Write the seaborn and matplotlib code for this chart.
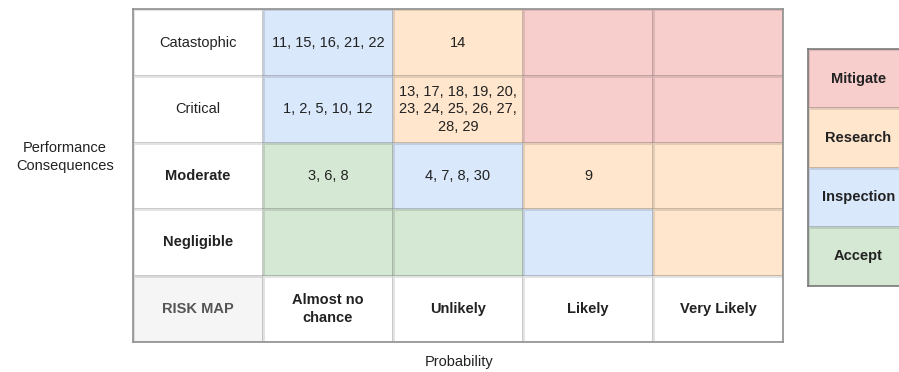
import matplotlib
matplotlib.use("Agg")
import matplotlib.pyplot as plt
from matplotlib.colors import ListedColormap
import numpy as np
import pandas as pd
import seaborn as sns

sns.set_theme(style="white")
plt.rcParams["font.family"] = ["Liberation Sans", "DejaVu Sans"]

# Risk matrix content
severity = ["Catastophic", "Critical", "Moderate", "Negligible"]
probability = ["Almost no\nchance", "Unlikely", "Likely", "Very Likely"]
actions = ["Mitigate", "Research", "Inspection", "Accept"]

# Response required for each severity (row) / probability (column) cell
cell_action = [
    ["Inspection", "Research", "Mitigate", "Mitigate"],
    ["Inspection", "Research", "Mitigate", "Mitigate"],
    ["Accept", "Inspection", "Research", "Research"],
    ["Accept", "Accept", "Inspection", "Research"],
]

# Risk item numbers placed in each cell
cell_items = [
    ["11, 15, 16, 21, 22", "14", "", ""],
    ["1, 2, 5, 10, 12", "13, 17, 18, 19, 20,\n23, 24, 25, 26, 27,\n28, 29", "", ""],
    ["3, 6, 8", "4, 7, 8, 30", "9", ""],
    ["", "", "", ""],
]

corner_label = "RISK MAP"
x_title = "Probability"
y_title = "Performance\nConsequences"

# Fill colours: label cell, corner cell, then one per action
fill = {
    "label": "#ffffff",
    "corner": "#f5f5f5",
    "Accept": "#d5e8d4",
    "Inspection": "#dae8fc",
    "Research": "#ffe6cc",
    "Mitigate": "#f8cecc",
}
codes = {k: i for i, k in enumerate(fill)}
cmap = ListedColormap(list(fill.values()))

# Build the full 5x5 table: header column on the left, probability row at the bottom
n_rows = len(severity) + 1
n_cols = len(probability) + 1
grid = np.zeros((n_rows, n_cols), dtype=int)
for i, row in enumerate(cell_action):
    for j, act in enumerate(row):
        grid[i, j + 1] = codes[act]
grid[-1, 0] = codes["corner"]
df = pd.DataFrame(grid)

W, H = 899, 372
fig = plt.figure(figsize=(W / 100, H / 100), dpi=100)

left, right, top, bottom = 132.7, 783.3, 9.3, 342.3
ax = fig.add_axes([left / W, 1 - bottom / H, (right - left) / W, (bottom - top) / H])
sns.heatmap(df, cmap=cmap, vmin=-0.5, vmax=len(fill) - 0.5, cbar=False,
            linewidths=1.0, linecolor=(0, 0, 0, 0.11),
            xticklabels=False, yticklabels=False, ax=ax)
for s in ax.spines.values():
    s.set_visible(True)
    s.set_color("#8f8f8f")
    s.set_linewidth(1.2)

fs = 10.5
txt = "#222222"
ls = 1.3
for i, name in enumerate(severity):
    bold = name in ("Moderate", "Negligible")
    ax.text(0.5, i + 0.5, name, ha="center", va="center", fontsize=fs,
            color=txt, fontweight="bold" if bold else "normal")
    for j, items in enumerate(cell_items[i]):
        if items:
            ax.text(j + 1.5, i + 0.5, items, ha="center", va="center",
                    fontsize=fs, color=txt, linespacing=ls)
for j, name in enumerate(probability):
    ax.text(j + 1.5, n_rows - 0.5, name, ha="center", va="center", fontsize=fs,
            color=txt, fontweight="bold", linespacing=ls)
ax.text(0.5, n_rows - 0.5, corner_label, ha="center", va="center", fontsize=fs,
        color="#555555", fontweight="bold")

# Legend of actions
lg_left, lg_top, lg_bottom, lg_w = 808.3, 49.3, 286.0, 100.0
lax = fig.add_axes([lg_left / W, 1 - lg_bottom / H, lg_w / W, (lg_bottom - lg_top) / H])
lgrid = pd.DataFrame([[codes[a]] for a in actions])
sns.heatmap(lgrid, cmap=cmap, vmin=-0.5, vmax=len(fill) - 0.5, cbar=False,
            linewidths=1.0, linecolor=(0, 0, 0, 0.11),
            xticklabels=False, yticklabels=False, ax=lax)
for s in lax.spines.values():
    s.set_visible(True)
    s.set_color("#7a7a7a")
    s.set_linewidth(1.2)
for i, a in enumerate(actions):
    lax.text(0.5, i + 0.5, a, ha="center", va="center", fontsize=fs,
             color=txt, fontweight="bold")

fig.text(65 / W, 1 - 157 / H, y_title, ha="center", va="center",
         fontsize=fs, color=txt, linespacing=ls)
fig.text(459 / W, 1 - 362 / H, x_title, ha="center", va="center",
         fontsize=fs, color=txt)

fig.savefig("out.png", dpi=100)
